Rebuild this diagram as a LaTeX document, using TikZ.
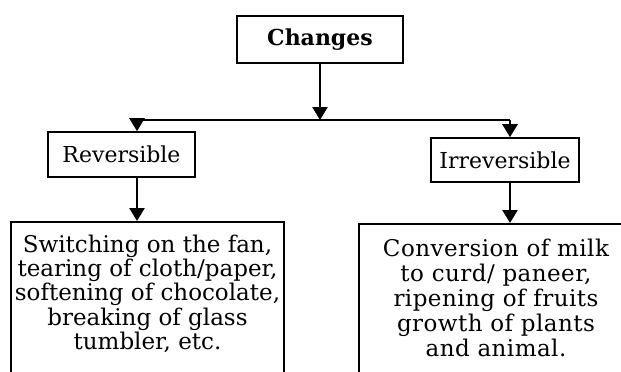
\documentclass[tikz,border=0pt]{standalone}
\usepackage{fontspec}
\setmainfont{DejaVu Serif}
\usetikzlibrary{arrows.meta}
\newcommand{\downtoedge}{\rule[-90pt]{0pt}{0pt}}
\begin{document}
\begin{tikzpicture}[x=1pt,y=-1pt,
  box/.style={draw,line width=1.6pt,inner xsep=3pt,inner ysep=11pt,
    font=\fontsize{22}{23.3}\selectfont},
  exbox/.style={box,anchor=north,align=center,minimum width=#1},
  arr/.style={line width=2.6pt,-{Triangle[width=15pt,length=13pt]}}]
\useasboundingbox (0,0) rectangle (621,372);
\clip (0,0) rectangle (621,372);
% top of the tree
\node[box,minimum width=166,minimum height=47,font=\bfseries\fontsize{22}{23}\selectfont]
  (changes) at (320,39.5) {Changes};
\coordinate (fork) at (320,120);
\coordinate (forkl) at (137,120);
\coordinate (forkr) at (510,120);
% the two kinds
\node[box,minimum width=147,minimum height=45] (rev) at (121.5,154.5) {Reversible};
\node[box,minimum width=148,minimum height=44] (irr) at (505,160) {Irreversible};
% examples
\node[exbox=273,inner ysep=13pt,font=\fontsize{23}{24.3}\selectfont] (revex) at (147.5,221)
  {Switching on the fan,\\ tearing of cloth/paper,\\ softening of chocolate,\\
   breaking of glass\\ tumbler, etc.\downtoedge};
\node[exbox=274,inner ysep=15pt,
  font=\fontsize{23}{25}\selectfont\addfontfeatures{LetterSpace=2}] (irrex) at (496,223)
  {Conversion of milk\\ to curd/ paneer,\\ ripening of fruits\\
   growth of plants\\ and animal.\downtoedge};
% connectors
\draw[arr] (changes) -- (fork);
\draw[line width=1.6pt] (forkl) -- (forkr);
\draw[arr] (forkl) -- (forkl |- rev.north);
\draw[arr] (forkr) -- (forkr |- irr.north);
\draw[arr] (forkl |- rev.south) -- (forkl |- revex.north);
\draw[arr] (forkr |- irr.south) -- (forkr |- irrex.north);
\end{tikzpicture}
\end{document}
